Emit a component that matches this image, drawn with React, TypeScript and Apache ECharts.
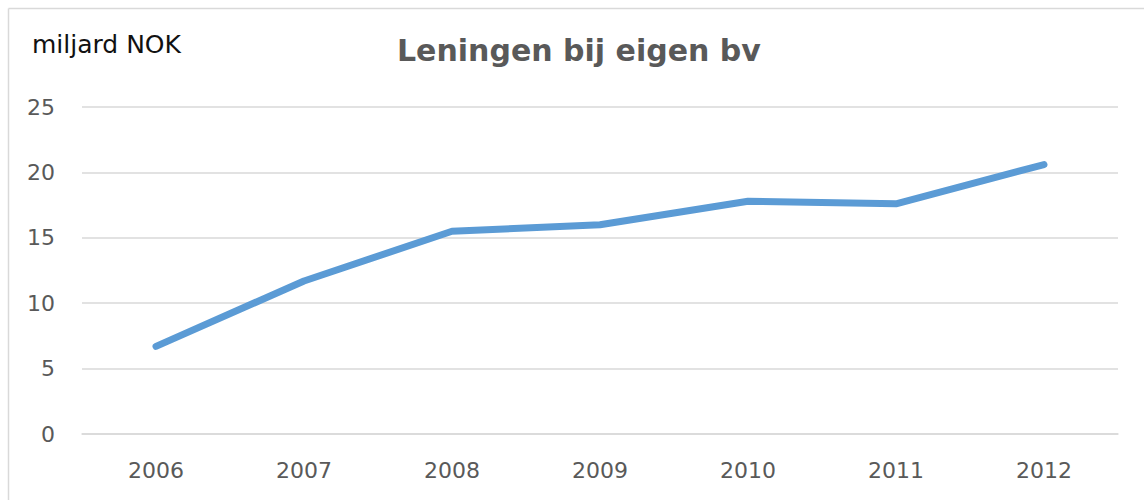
import React, { useEffect, useRef } from "react";
import * as echarts from "echarts";

const categories = ["2006", "2007", "2008", "2009", "2010", "2011", "2012"];
const values = [6.7, 11.7, 15.5, 16.0, 17.8, 17.6, 20.6];
const titleText = "Leningen bij eigen bv";
const unitText = "miljard NOK";

export default function App() {
  const ref = useRef<HTMLDivElement>(null);
  useEffect(() => {
    document.body.style.margin = "0";
    const chart = echarts.init(ref.current!, null, { renderer: "svg" });
    const font = "DejaVu Sans, Verdana, sans-serif";
    chart.setOption({
      animation: false,
      backgroundColor: "#ffffff",
      title: {
        text: titleText,
        left: 397,
        top: 35,
        padding: 0,
        textStyle: { fontSize: 30, fontWeight: "bold", color: "#595959", fontFamily: font },
      },
      graphic: [
        { type: "line", shape: { x1: 8.5, y1: 8.5, x2: 1144, y2: 8.5 }, style: { stroke: "#d9d9d9", lineWidth: 1.5 } },
        { type: "line", shape: { x1: 8.5, y1: 8.5, x2: 8.5, y2: 500 }, style: { stroke: "#d9d9d9", lineWidth: 1.5 } },
        {
          type: "text",
          left: 32,
          top: 32,
          style: { text: unitText, fontSize: 25, fill: "#111111", fontFamily: font },
        },
      ],
      grid: { left: 82, right: 26, top: 107, bottom: 66, containLabel: false },
      xAxis: {
        type: "category",
        data: categories,
        boundaryGap: true,
        axisLine: { show: true, lineStyle: { color: "#d9d9d9", width: 1.5 } },
        axisTick: { show: false },
        axisLabel: { color: "#595959", fontSize: 22, fontFamily: font, margin: 25 },
      },
      yAxis: {
        type: "value",
        min: 0,
        max: 25,
        interval: 5,
        axisLine: { show: false },
        axisTick: { show: false },
        splitLine: { lineStyle: { color: "#d9d9d9", width: 1.5 } },
        axisLabel: { color: "#595959", fontSize: 22, fontFamily: font, margin: 27 },
      },
      series: [
        {
          type: "line",
          data: values,
          symbol: "none",
          lineStyle: { color: "#5b9bd5", width: 7, cap: "round", join: "round" },
        },
      ],
    });
    return () => chart.dispose();
  }, []);
  return <div ref={ref} style={{ width: 1144, height: 500 }} />;
}
